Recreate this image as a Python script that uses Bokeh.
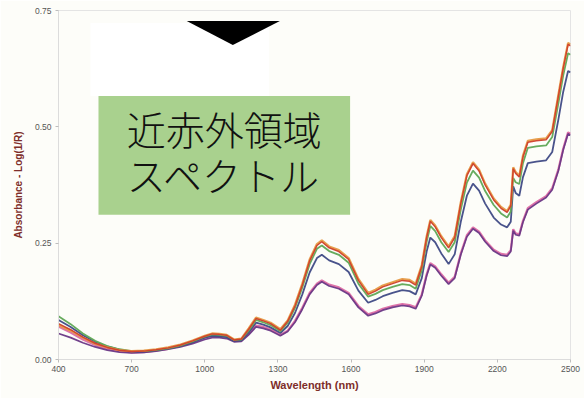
from bokeh.plotting import figure
from bokeh.models import FixedTicker, NumeralTickFormatter
from bokeh.core.properties import value
from bokeh.embed import file_html
from bokeh.resources import INLINE

# NIR absorbance spectra, wavelength in nm
wavelength = [400, 450, 500, 550, 600, 650, 700, 750, 800, 850, 900, 950, 1000, 1030, 1060, 1090,
              1120, 1150, 1180, 1210, 1240, 1270, 1310, 1340, 1370, 1400, 1430, 1460, 1480, 1510,
              1550, 1590, 1630, 1670, 1700, 1730, 1770, 1810, 1840, 1865, 1890, 1910, 1925, 1945,
              1970, 2000, 2025, 2050, 2075, 2100, 2125, 2150, 2185, 2215, 2240, 2255, 2265, 2275,
              2290, 2305, 2325, 2360, 2400, 2425, 2450, 2470, 2490, 2500]

orange = [0.074, 0.062, 0.047, 0.034, 0.026, 0.020, 0.018, 0.019, 0.022, 0.026, 0.032, 0.041, 0.051,
          0.056, 0.055, 0.053, 0.043, 0.045, 0.067, 0.090, 0.085, 0.079, 0.065, 0.084, 0.118, 0.163,
          0.215, 0.248, 0.256, 0.243, 0.235, 0.218, 0.173, 0.143, 0.150, 0.159, 0.166, 0.173, 0.171,
          0.163, 0.203, 0.265, 0.300, 0.288, 0.265, 0.243, 0.265, 0.338, 0.398, 0.424, 0.408, 0.378,
          0.346, 0.328, 0.319, 0.333, 0.413, 0.403, 0.395, 0.438, 0.470, 0.473, 0.475, 0.493, 0.568,
          0.628, 0.680, 0.677]

red = [0.077, 0.064, 0.048, 0.035, 0.026, 0.020, 0.017, 0.018, 0.021, 0.025, 0.031, 0.040, 0.050,
       0.055, 0.054, 0.052, 0.042, 0.044, 0.065, 0.088, 0.083, 0.077, 0.063, 0.082, 0.115, 0.160,
       0.212, 0.245, 0.253, 0.240, 0.232, 0.215, 0.170, 0.140, 0.147, 0.156, 0.163, 0.170, 0.168,
       0.160, 0.200, 0.262, 0.297, 0.285, 0.262, 0.240, 0.262, 0.335, 0.395, 0.421, 0.405, 0.375,
       0.343, 0.325, 0.316, 0.330, 0.410, 0.400, 0.392, 0.435, 0.467, 0.470, 0.472, 0.490, 0.565,
       0.625, 0.677, 0.674]

green = [0.093, 0.076, 0.056, 0.040, 0.029, 0.022, 0.018, 0.018, 0.020, 0.024, 0.030, 0.039, 0.049,
         0.054, 0.053, 0.051, 0.042, 0.043, 0.062, 0.085, 0.080, 0.074, 0.061, 0.079, 0.111, 0.155,
         0.205, 0.238, 0.245, 0.233, 0.225, 0.208, 0.163, 0.135, 0.141, 0.149, 0.156, 0.162, 0.160,
         0.152, 0.192, 0.253, 0.287, 0.276, 0.252, 0.231, 0.252, 0.322, 0.380, 0.406, 0.391, 0.362,
         0.332, 0.314, 0.305, 0.318, 0.390, 0.381, 0.377, 0.422, 0.455, 0.458, 0.460, 0.478, 0.550,
         0.610, 0.658, 0.655]

navy = [0.085, 0.070, 0.052, 0.038, 0.028, 0.021, 0.017, 0.017, 0.020, 0.024, 0.029, 0.037, 0.047,
        0.051, 0.050, 0.048, 0.040, 0.041, 0.058, 0.079, 0.075, 0.069, 0.057, 0.072, 0.100, 0.140,
        0.187, 0.218, 0.225, 0.213, 0.205, 0.188, 0.148, 0.122, 0.128, 0.136, 0.143, 0.149, 0.147,
        0.140, 0.175, 0.232, 0.262, 0.252, 0.228, 0.205, 0.226, 0.296, 0.352, 0.378, 0.363, 0.335,
        0.305, 0.290, 0.284, 0.296, 0.372, 0.358, 0.352, 0.392, 0.422, 0.425, 0.428, 0.446, 0.515,
        0.575, 0.620, 0.617]

pink = [0.071, 0.058, 0.043, 0.031, 0.023, 0.018, 0.015, 0.016, 0.019, 0.023, 0.029, 0.037, 0.047,
        0.051, 0.051, 0.049, 0.040, 0.041, 0.056, 0.073, 0.070, 0.065, 0.053, 0.062, 0.083, 0.111,
        0.143, 0.163, 0.170, 0.161, 0.155, 0.143, 0.115, 0.097, 0.102, 0.109, 0.115, 0.119, 0.117,
        0.112, 0.140, 0.183, 0.207, 0.200, 0.183, 0.165, 0.178, 0.228, 0.267, 0.284, 0.275, 0.256,
        0.236, 0.227, 0.225, 0.235, 0.280, 0.271, 0.269, 0.298, 0.325, 0.338, 0.351, 0.368, 0.408,
        0.453, 0.488, 0.485]

purple = [0.056, 0.047, 0.036, 0.027, 0.020, 0.016, 0.014, 0.015, 0.018, 0.022, 0.027, 0.034, 0.043,
          0.047, 0.047, 0.045, 0.038, 0.039, 0.053, 0.070, 0.067, 0.062, 0.051, 0.060, 0.080, 0.108,
          0.140, 0.160, 0.167, 0.158, 0.152, 0.140, 0.112, 0.094, 0.099, 0.106, 0.112, 0.116, 0.114,
          0.109, 0.137, 0.180, 0.204, 0.197, 0.180, 0.162, 0.175, 0.225, 0.264, 0.281, 0.272, 0.253,
          0.233, 0.224, 0.222, 0.232, 0.277, 0.268, 0.266, 0.295, 0.322, 0.335, 0.348, 0.365, 0.405,
          0.450, 0.485, 0.482]

x_ticks = [400, 700, 1000, 1300, 1600, 1900, 2200, 2500]
y_ticks = [0.0, 0.25, 0.5, 0.75]

caption_lines = ["近赤外領域", "スペクトル"]

p = figure(width=584, height=398, x_range=(400, 2500), y_range=(0, 0.75),
           output_backend="svg", toolbar_location=None,
           min_border_left=58, min_border_right=14, min_border_top=10, min_border_bottom=39)

p.background_fill_color = "#fdfdf9"
p.border_fill_color = "#fdfdf9"
p.outline_line_color = "#e4e4e4"
p.grid.visible = False

AXIS_LABEL_COLOR = "#7e2e2a"
for ax in (p.xaxis[0], p.yaxis[0]):
    ax.axis_line_color = "#dcdcdc"
    ax.major_tick_line_color = "#bdbdbd"
    ax.major_tick_out = 3
    ax.major_tick_in = 0
    ax.minor_tick_line_color = None
    ax.major_label_text_font = "Liberation Sans"
    ax.major_label_text_font_size = "8.5px"
    ax.major_label_text_color = "#555555"
    ax.axis_label_text_font = "Liberation Sans"
    ax.axis_label_text_font_style = "bold"
    ax.axis_label_text_color = AXIS_LABEL_COLOR

p.xaxis.ticker = FixedTicker(ticks=x_ticks)
p.yaxis.ticker = FixedTicker(ticks=y_ticks)
p.yaxis.formatter = NumeralTickFormatter(format="0.00")
p.xaxis.axis_label = "Wavelength (nm)"
p.yaxis.axis_label = "Absorbance - Log(1/R)"
p.xaxis.axis_label_text_font_size = "11px"
p.yaxis.axis_label_text_font_size = "10px"
p.xaxis.major_label_standoff = 3
p.yaxis.major_label_standoff = 4
p.xaxis.axis_label_standoff = 4
p.yaxis.axis_label_standoff = 8

# spectra, back to front
series = [
    (pink, "#dc6aa3", 2.2),
    (purple, "#6a3886", 1.7),
    (navy, "#3f4a85", 1.8),
    (green, "#5fa655", 1.8),
    (orange, "#e69a45", 2.2),
    (red, "#cf3f2c", 1.5),
]
for ys, color, w in series:
    p.line(wavelength, ys, line_color=color, line_width=w, line_alpha=0.95)

# caption panel with pointer
p.quad(left=531, right=1263, bottom=0.566, top=0.723, fill_color="#ffffff", line_color=None)
p.patch([926, 1308, 1115], [0.7275, 0.7275, 0.676], fill_color="#000000", line_color=None)
p.quad(left=564, right=1596, bottom=0.311, top=0.5665, fill_color="#a9d18e", line_color=None)
p.text(x=[1080, 1080], y=[0.497, 0.398], text=caption_lines,
       text_font=value("Noto Sans CJK JP Light, Noto Sans CJK JP"), text_font_size="39px",
       text_align="center", text_baseline="middle", text_color="#111111")

open("out.html", "w").write(file_html(p, INLINE))
